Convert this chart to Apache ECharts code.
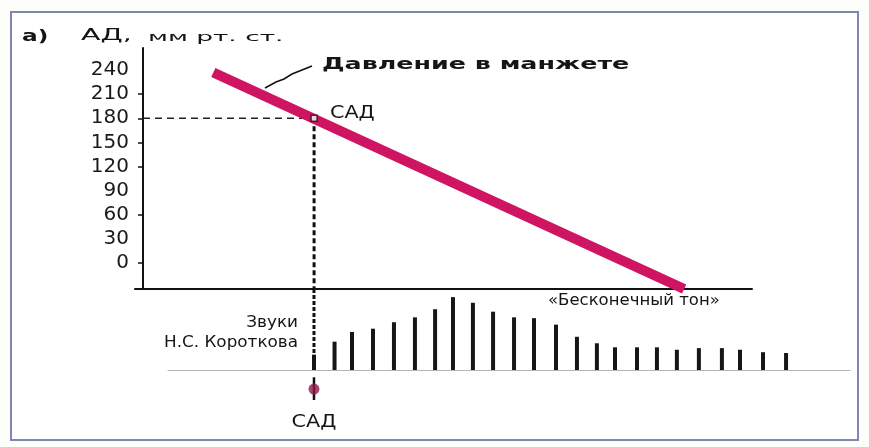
<!DOCTYPE html>
<html><head><meta charset="utf-8">
<script src="https://cdn.jsdelivr.net/npm/echarts@6/dist/echarts.min.js"></script>
<style>html,body{margin:0;padding:0;background:#fdfdf9}#c{width:869px;height:447px}</style>
</head><body><div id="c"></div>
<script>
// ---- data ----
const yTickLabels = [0, 30, 60, 90, 120, 150, 180, 210, 240];
const yTickMarks = [0, 60, 120, 150, 180, 210];
const cuffTime = [-4.9, 18.0];          // time (pulse intervals, SAD = 0)
const cuffPressure = [237, -32.3];      // mm Hg
const sadTime = 0;
const sadPressure = 180;
const pulseTime = [0, 1.0, 1.85, 2.87, 3.89, 4.91, 5.89, 6.76, 7.73, 8.71, 9.73, 10.70,
                   11.77, 12.79, 13.76, 14.64, 15.71, 16.68, 17.65, 18.72, 19.84, 20.72, 21.84, 22.96];
const pulseAmp = [19, 35, 47, 51, 59, 65, 75, 90, 83, 72, 65, 64,
                  56, 41, 33, 28, 28, 28, 25, 27, 27, 25, 22, 21];
const yMin = -32.3, yMax = 267.4;
const axisX = -8.32; // time at the pressure axis

const FONT = '"DejaVu Sans", sans-serif';
const chart = echarts.init(document.getElementById('c'), null, {renderer: 'canvas'});

function txt(text, x, y, size, opts) {
  opts = opts || {};
  return {
    type: 'text', x: x, y: y, scaleX: opts.sx || 1.45, z: 10,
    style: {
      text: text, fill: opts.color || '#151515',
      font: (opts.bold ? 'bold ' : '') + size + 'px ' + FONT,
      textAlign: opts.align || 'left', textVerticalAlign: 'middle'
    }
  };
}

const option = {
  animation: false,
  backgroundColor: '#fdfdf9',
  grid: [
    {left: 135, right: 117, top: 48, bottom: 158, containLabel: false},
    {left: 168, right: 19, top: 289, bottom: 45, containLabel: false}
  ],
  xAxis: [
    {type: 'value', gridIndex: 0, min: -8.71, max: 21.30,
     axisLine: {show: true, onZero: false, lineStyle: {color: '#111', width: 2}},
     axisTick: {show: false}, axisLabel: {show: false}, splitLine: {show: false}},
    {type: 'value', gridIndex: 1, min: -7.10, max: 26.07,
     axisLine: {show: true, onZero: true, lineStyle: {color: '#b5b5b5', width: 1}},
     axisTick: {show: false}, axisLabel: {show: false}, splitLine: {show: false}}
  ],
  yAxis: [
    {type: 'value', gridIndex: 0, min: yMin, max: yMax, offset: -8,
     axisLine: {show: true, onZero: false, lineStyle: {color: '#111', width: 2}},
     axisTick: {show: true, length: 5, customValues: yTickMarks, lineStyle: {color: '#111', width: 1.5}},
     axisLabel: {show: true, customValues: yTickLabels, margin: 14, color: '#1a1a1a',
                 fontSize: 20, fontFamily: FONT},
     splitLine: {show: false}},
    {type: 'value', gridIndex: 1, min: -39.5, max: 100, show: false, splitLine: {show: false}}
  ],
  series: [
    { // horizontal dashed guide at SAD
      type: 'line', xAxisIndex: 0, yAxisIndex: 0, z: 1, symbol: 'none',
      data: [[axisX, sadPressure], [sadTime, sadPressure]],
      lineStyle: {color: '#222', width: 1.5, type: [7, 5]}
    },
    { // vertical dashed guide (top)
      type: 'line', xAxisIndex: 0, yAxisIndex: 0, z: 1, symbol: 'none',
      data: [[sadTime, sadPressure], [sadTime, yMin]],
      lineStyle: {color: '#111', width: 3, type: [5, 3]}
    },
    { // cuff pressure
      type: 'line', xAxisIndex: 0, yAxisIndex: 0, z: 2, symbol: 'none', clip: true,
      data: cuffTime.map((t, i) => [t, cuffPressure[i]]),
      lineStyle: {color: '#cf1462', width: 10, cap: 'butt'}
    },
    { // SAD point on the cuff line
      type: 'scatter', xAxisIndex: 0, yAxisIndex: 0, z: 3,
      symbol: 'rect', symbolSize: [6, 6],
      data: [[sadTime, sadPressure]],
      itemStyle: {color: '#fff', borderColor: '#111', borderWidth: 1.5}
    },
    { // vertical dashed guide (bottom)
      type: 'line', xAxisIndex: 1, yAxisIndex: 1, z: 1, symbol: 'none',
      data: [[sadTime, 100], [sadTime, 0]],
      lineStyle: {color: '#111', width: 3, type: [4, 2]}
    },
    { // Korotkoff sounds
      type: 'bar', xAxisIndex: 1, yAxisIndex: 1, z: 2, barWidth: 4,
      data: pulseTime.map((t, i) => [t, pulseAmp[i]]),
      itemStyle: {color: '#161616'}
    },
    { // SAD marker below the time line
      type: 'line', xAxisIndex: 1, yAxisIndex: 1, z: 3, symbol: 'none',
      data: [[sadTime, -9], [sadTime, -37]],
      lineStyle: {color: '#111', width: 2.5}
    },
    {
      type: 'scatter', xAxisIndex: 1, yAxisIndex: 1, z: 4, symbol: 'circle', symbolSize: 11,
      data: [[sadTime, -23.5]],
      itemStyle: {color: '#8e1646'}
    }
  ],
  graphic: [
    {type: 'rect', z: 0, shape: {x: 11, y: 12, width: 847, height: 428},
     style: {fill: '#fff', stroke: '#7f86b0', lineWidth: 2}},
    {type: 'polyline', z: 10, shape: {points: [[265, 88], [276, 82], [284, 79], [292, 74], [302, 70], [312, 66]]},
     style: {stroke: '#111', lineWidth: 1.5, fill: null}},
    txt('а)', 22, 37, 16, {bold: true, sx: 1.45}),
    txt('АД,', 81, 36, 15, {sx: 1.9}),
    txt('мм рт. ст.', 148, 38, 12, {sx: 2.2}),
    txt('Давление в манжете', 322, 65, 15, {bold: true, sx: 1.69}),
    txt('САД', 330, 113, 18, {sx: 1.15}),
    txt('«Бесконечный тон»', 548, 301, 15, {sx: 1.1}),
    txt('Звуки', 298, 323, 15, {align: 'right', sx: 1.12}),
    txt('Н.С. Короткова', 298, 343, 15, {align: 'right', sx: 1.12}),
    txt('САД', 314, 422, 18, {align: 'center', sx: 1.15})
  ]
};
chart.setOption(option);
</script>
</body></html>
